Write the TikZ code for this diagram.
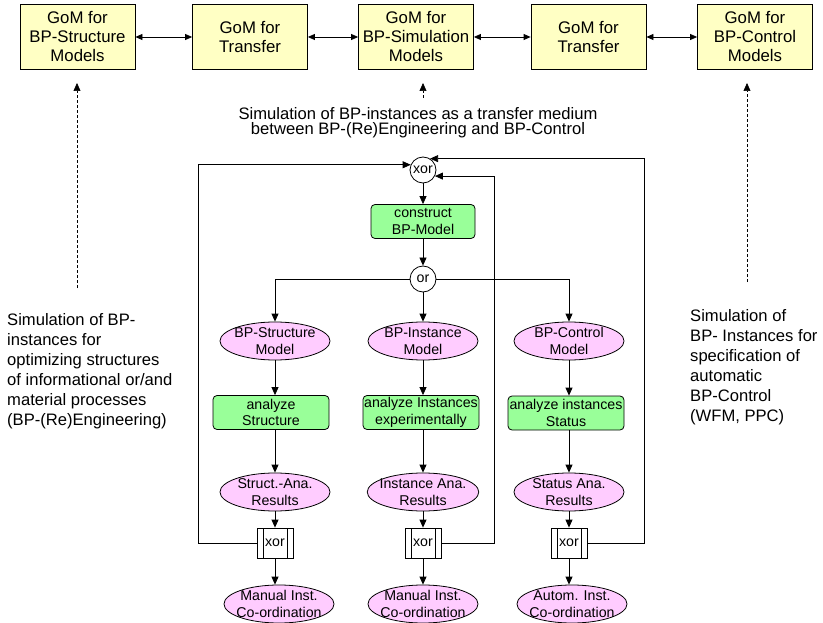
\documentclass[tikz,border=0pt]{standalone}
\usepackage{fontspec}
\setmainfont{Liberation Sans}
\usepackage{tikz}
\usetikzlibrary{shapes.geometric,arrows.meta}
\usepackage{xcolor}
\definecolor{gomyellow}{RGB}{255,255,196}
\definecolor{funcgreen}{RGB}{153,255,153}
\definecolor{evtpink}{RGB}{255,204,255}
\tikzstyle{gombox} = [draw=black, fill=gomyellow, line width=0.8pt,
    rectangle, minimum width=115pt, minimum height=65pt, inner sep=0pt,
    align=center, font=\fontsize{16.8}{19}\selectfont]
\tikzstyle{funcbox} = [draw=black, fill=funcgreen, line width=0.8pt,
    rectangle, rounded corners=4pt, minimum width=116pt, minimum height=34pt,
    inner sep=1pt, align=center, font=\fontsize{14.2}{16.7}\selectfont]
\tikzstyle{evtnode} = [draw=black, fill=evtpink, line width=0.8pt,
    ellipse, minimum width=110pt, minimum height=38pt, inner xsep=-4pt,
    inner ysep=-2pt, align=center, font=\fontsize{14.2}{16.7}\selectfont]
\tikzstyle{connop} = [draw=black, fill=white, line width=0.8pt, circle,
    minimum size=26pt, inner sep=0pt, font=\fontsize{14.2}{16.7}\selectfont]
\tikzstyle{xorbar} = [draw=black, fill=white, line width=0.8pt, rectangle,
    minimum width=36pt, minimum height=30pt, inner sep=0pt,
    font=\fontsize{14.2}{16.7}\selectfont,
    path picture={
      \draw ([xshift=6pt]path picture bounding box.north west) --
            ([xshift=6pt]path picture bounding box.south west);
      \draw ([xshift=-6pt]path picture bounding box.north east) --
            ([xshift=-6pt]path picture bounding box.south east);}]
\tikzstyle{note} = [inner sep=0pt, align=left,
    font=\fontsize{16.6}{20}\selectfont]
\tikzstyle{arr} = [line width=0.8pt, -{Triangle[length=8pt,width=7pt]}]
\tikzstyle{dblarr} = [line width=0.8pt,
    {Triangle[length=7pt,width=6pt]}-{Triangle[length=7pt,width=6pt]}]
\tikzstyle{dasharr} = [line width=0.6pt, dash pattern=on 3pt off 2pt,
    -{Triangle[length=8pt,width=7pt]}]

\begin{document}
\begin{tikzpicture}[x=1pt, y=-1pt]
\useasboundingbox (0,0) rectangle (823,623);

% GoM boxes
\node[gombox] (gom1) at (77.5,37) {GoM for\\BP-Structure\\Models};
\node[gombox] (gom2) at (250,37) {GoM for\\Transfer};
\node[gombox] (gom3) at (416,37) {GoM for\\BP-Simulation\\Models};
\node[gombox] (gom4) at (588.5,37) {GoM for\\Transfer};
\node[gombox] (gom5) at (755,37) {GoM for\\BP-Control\\Models};
\foreach \a/\b in {gom1/gom2, gom2/gom3, gom3/gom4, gom4/gom5}
    \draw[dblarr] (\a) -- (\b);

% annotations
\node[note, anchor=north west] (noteL) at (7,313)
    {Simulation of BP-\\instances for\\optimizing structures\\of informational or/and\\material processes\\(BP-(Re)Engineering)};
\node[note, anchor=north west] (noteR) at (690,309)
    {Simulation of\\BP- Instances for\\specification of\\automatic\\BP-Control\\(WFM, PPC)};
\node[note, align=center, anchor=north, font=\fontsize{16.6}{15}\selectfont]
    (noteM) at (418,107)
    {Simulation of BP-instances as a transfer medium\\between BP-(Re)Engineering and BP-Control};

\coordinate (dl0) at (77,288);  \coordinate (dl1) at (77,83);
\coordinate (dm0) at (423,98);  \coordinate (dm1) at (423,83);
\coordinate (dr0) at (747,282); \coordinate (dr1) at (747,83);
\draw[dasharr] (dl0) -- (dl1);
\draw[dasharr] (dm0) -- (dm1);
\draw[dasharr] (dr0) -- (dr1);

% simulation process
\node[connop] (xor0) at (423,170) {xor};
\node[funcbox, minimum width=104pt] (cons) at (423,221.5) {construct\\BP-Model};
\node[connop] (or0) at (423,279) {or};

\node[evtnode] (mod1) at (275,341) {BP-Structure\\Model};
\node[evtnode] (mod2) at (423,341) {BP-Instance\\Model};
\node[evtnode] (mod3) at (569,341) {BP-Control\\Model};

\node[funcbox] (ana1) at (271,412.5) {analyze\\Structure};
\node[funcbox] (ana2) at (421,412.5) {analyze Instances\\experimentally};
\node[funcbox] (ana3) at (566,413) {analyze instances\\Status};

\node[evtnode] (res1) at (275,492) {Struct.-Ana.\\Results};
\node[evtnode] (res2) at (423,492) {Instance Ana.\\Results};
\node[evtnode] (res3) at (569,492) {Status Ana.\\Results};

\node[xorbar] (xb1) at (275,543) {xor};
\node[xorbar] (xb2) at (423,543) {xor};
\node[xorbar] (xb3) at (569,543) {xor};

\node[evtnode] (crd1) at (279,604) {Manual Inst.\\Co-ordination};
\node[evtnode] (crd2) at (423,604) {Manual Inst.\\Co-ordination};
\node[evtnode] (crd3) at (572,604) {Autom. Inst.\\Co-ordination};

\draw[arr] (xor0) -- (cons);
\draw[arr] (cons) -- (or0);
\draw[arr] (or0.west) -| (mod1);
\draw[arr] (or0) -- (mod2);
\draw[arr] (or0.east) -| (mod3);
\foreach \i in {1,2,3} {
    \draw[arr] (mod\i) -- (mod\i |- ana\i.north);
    \draw[arr] (res\i |- ana\i.south) -- (res\i);
    \draw[arr] (res\i) -- (xb\i);
    \draw[arr] (xb\i) -- (xb\i |- crd\i.north);
}

% feedback loops
\draw[arr] (xb1.west) -- ++(-58,0) |- (xor0.157);
\draw[arr] (xb2.east) -- ++(53,0) |- (xor0.333);
\draw[arr] (xb3.east) -- ++(57,0) |- (xor0.58);
\end{tikzpicture}
\end{document}
